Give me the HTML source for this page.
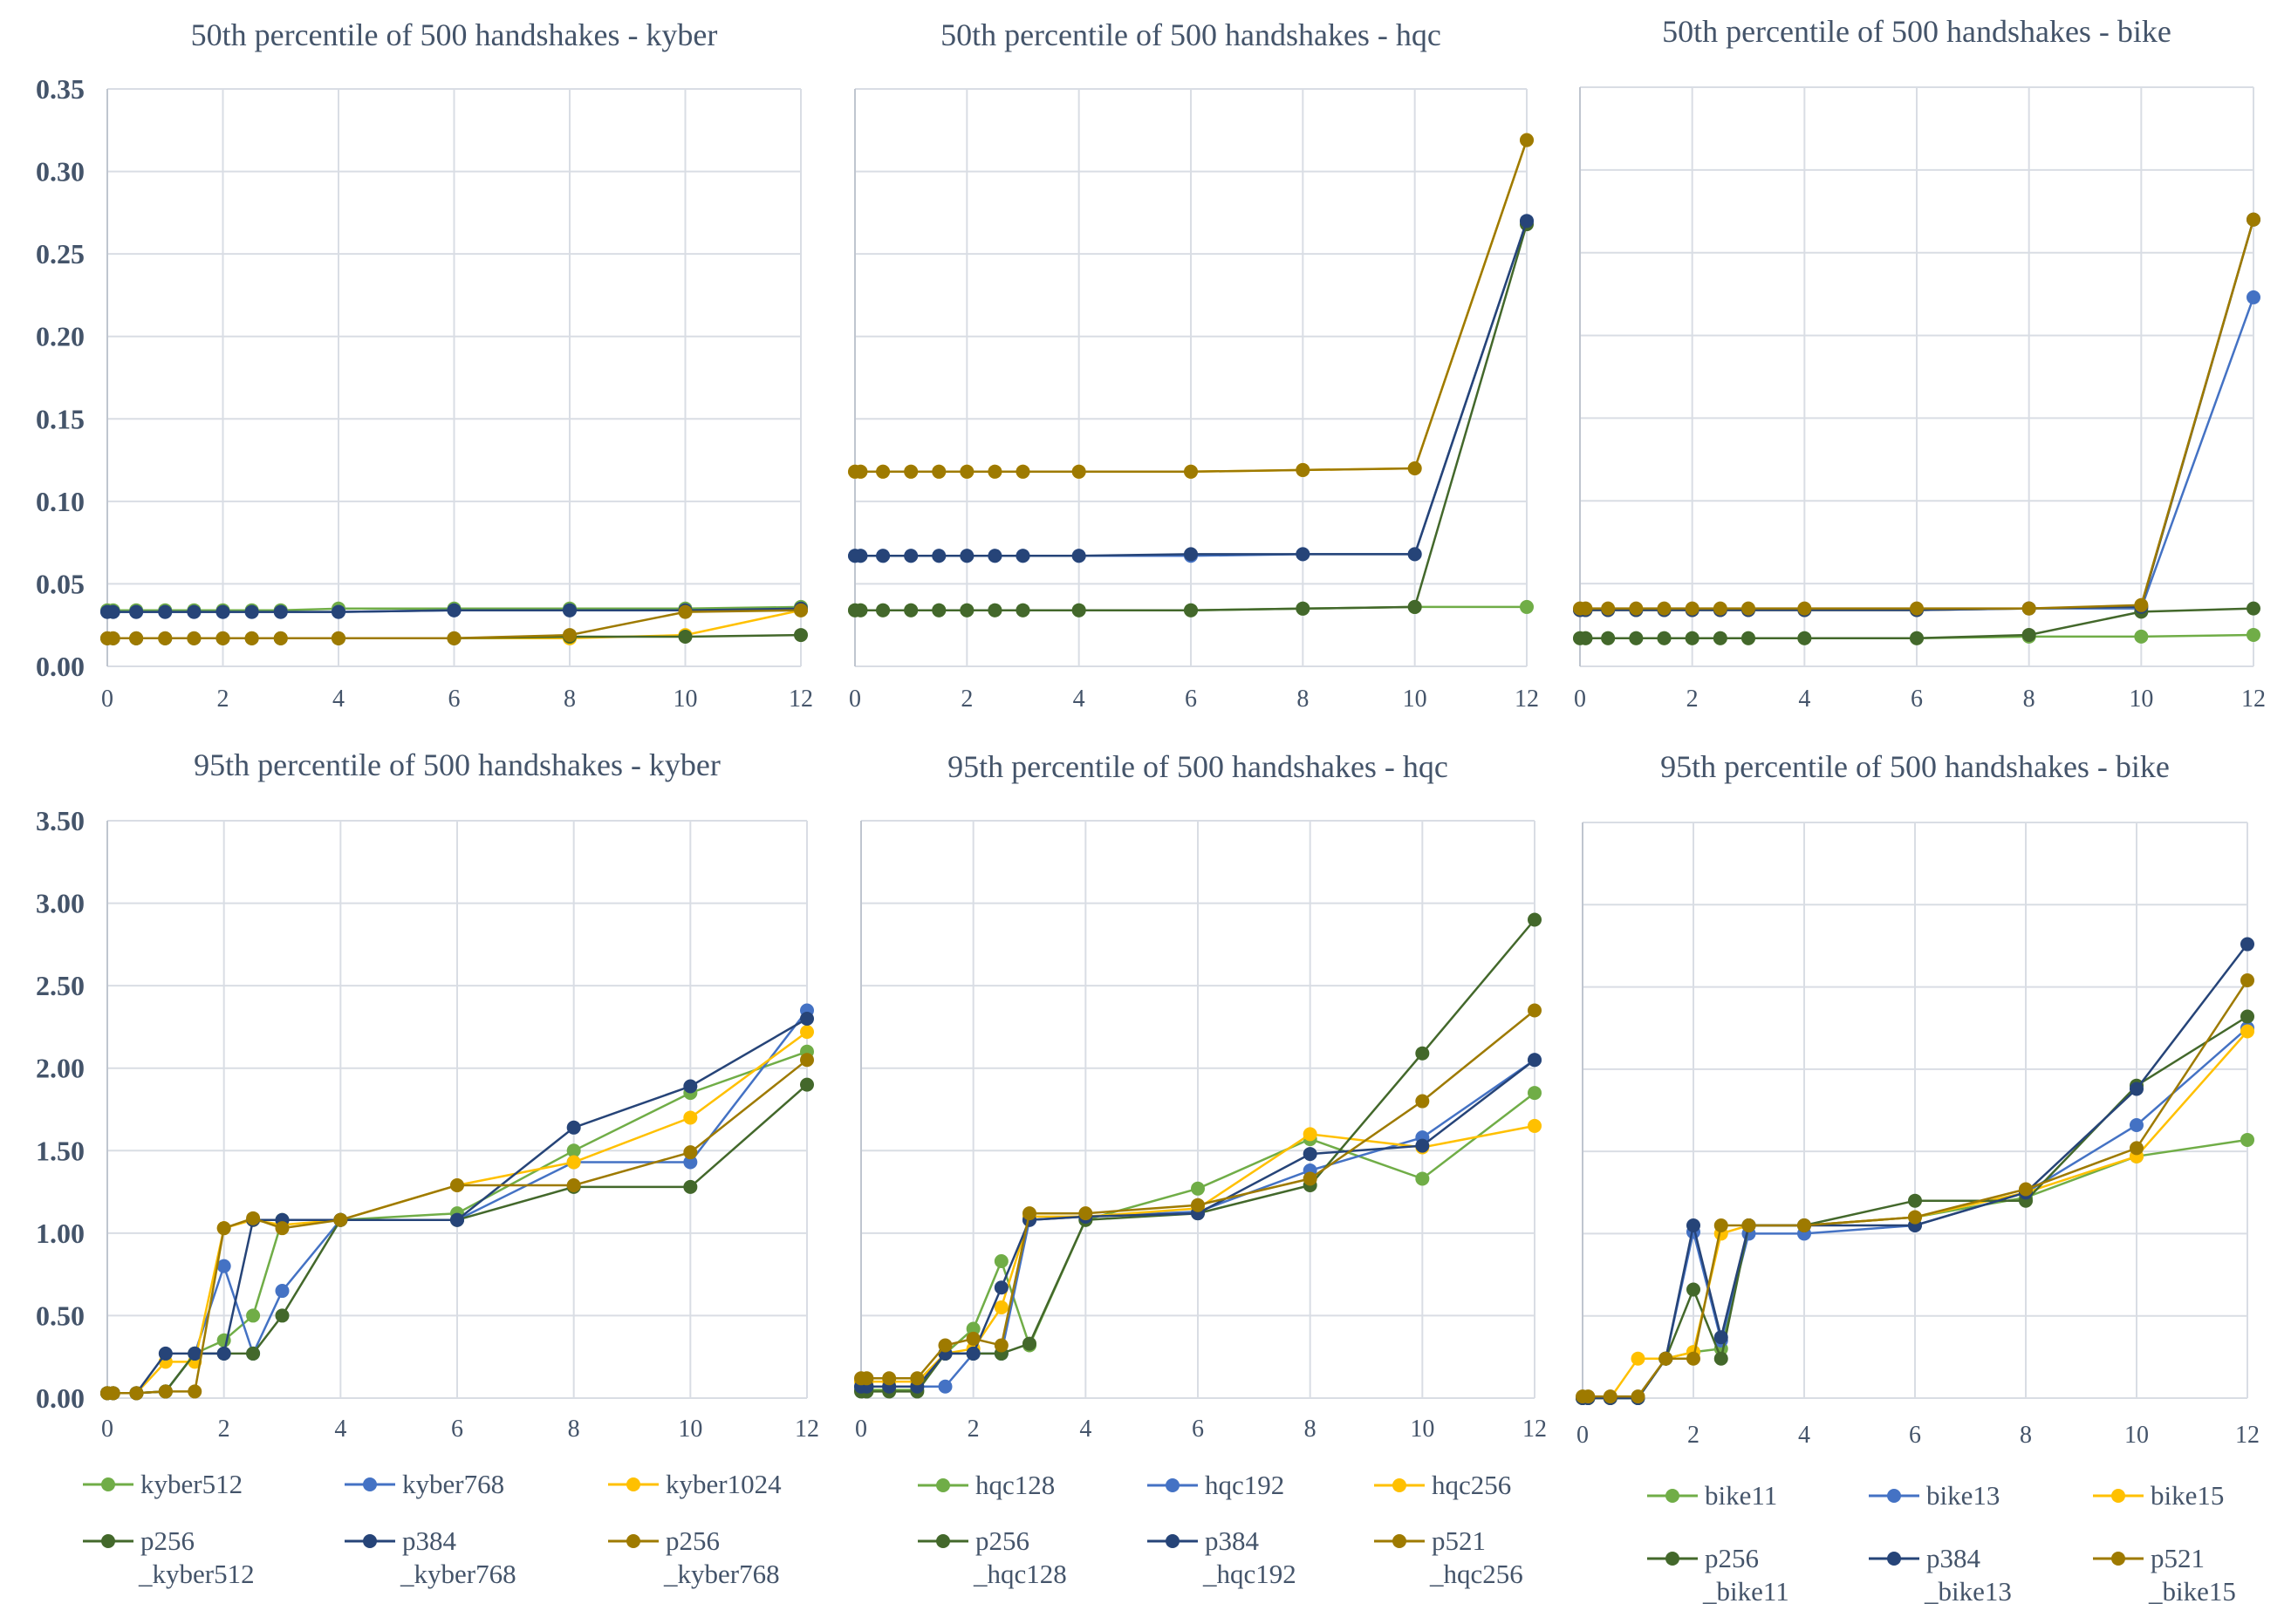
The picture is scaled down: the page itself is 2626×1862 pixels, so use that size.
<!DOCTYPE html>
<html><head><meta charset="utf-8">
<style>
html,body{margin:0;padding:0;background:#fff;}
svg{display:block;}
text{font-family:"Liberation Serif",serif;fill:#44546a;}
</style></head>
<body>
<svg id="root" width="2626" height="1862" viewBox="0 0 2626 1862" xmlns="http://www.w3.org/2000/svg"></svg>
<script>
const xValues = [0,0.1,0.5,1,1.5,2,2.5,3,4,6,8,10,12];
const xTicks = [0,2,4,6,8,10,12];
const yTicksTop = [0,0.05,0.10,0.15,0.20,0.25,0.30,0.35];
const yTicksBottom = [0,0.5,1.0,1.5,2.0,2.5,3.0,3.5];
const colors = ["#70ad47","#4472c4","#ffc000","#43682b","#264478","#9e7a00"];

const kyberNames = ["kyber512","kyber768","kyber1024","p256\n_kyber512","p384\n_kyber768","p256\n_kyber768"];
const hqcNames = ["hqc128","hqc192","hqc256","p256\n_hqc128","p384\n_hqc192","p521\n_hqc256"];
const bikeNames = ["bike11","bike13","bike15","p256\n_bike11","p384\n_bike13","p521\n_bike15"];

const kyber50 = [
 [0.034,0.034,0.034,0.034,0.034,0.034,0.034,0.034,0.035,0.035,0.035,0.035,0.036],
 [0.033,0.033,0.033,0.033,0.033,0.033,0.033,0.033,0.033,0.034,0.034,0.034,0.034],
 [0.017,0.017,0.017,0.017,0.017,0.017,0.017,0.017,0.017,0.017,0.017,0.019,0.034],
 [0.017,0.017,0.017,0.017,0.017,0.017,0.017,0.017,0.017,0.017,0.018,0.018,0.019],
 [0.033,0.033,0.033,0.033,0.033,0.033,0.033,0.033,0.033,0.034,0.034,0.034,0.035],
 [0.017,0.017,0.017,0.017,0.017,0.017,0.017,0.017,0.017,0.017,0.019,0.033,0.034]
];
const hqc50 = [
 [0.034,0.034,0.034,0.034,0.034,0.034,0.034,0.034,0.034,0.034,0.035,0.036,0.036],
 [0.067,0.067,0.067,0.067,0.067,0.067,0.067,0.067,0.067,0.067,0.068,0.068,0.270],
 [0.118,0.118,0.118,0.118,0.118,0.118,0.118,0.118,0.118,0.118,0.119,0.120,0.319],
 [0.034,0.034,0.034,0.034,0.034,0.034,0.034,0.034,0.034,0.034,0.035,0.036,0.268],
 [0.067,0.067,0.067,0.067,0.067,0.067,0.067,0.067,0.067,0.068,0.068,0.068,0.270],
 [0.118,0.118,0.118,0.118,0.118,0.118,0.118,0.118,0.118,0.118,0.119,0.120,0.319]
];
const bike50 = [
 [0.017,0.017,0.017,0.017,0.017,0.017,0.017,0.017,0.017,0.017,0.018,0.018,0.019],
 [0.034,0.034,0.034,0.034,0.034,0.034,0.034,0.034,0.034,0.034,0.035,0.035,0.223],
 [0.034,0.034,0.034,0.034,0.034,0.034,0.034,0.034,0.034,0.034,0.035,0.036,0.270],
 [0.017,0.017,0.017,0.017,0.017,0.017,0.017,0.017,0.017,0.017,0.019,0.033,0.035],
 [0.034,0.034,0.034,0.034,0.034,0.034,0.034,0.034,0.034,0.034,0.035,0.036,0.270],
 [0.035,0.035,0.035,0.035,0.035,0.035,0.035,0.035,0.035,0.035,0.035,0.037,0.270]
];
const kyber95 = [
 [0.03,0.03,0.03,0.04,0.27,0.35,0.50,1.08,1.08,1.12,1.50,1.85,2.10],
 [0.03,0.03,0.03,0.04,0.27,0.80,0.27,0.65,1.08,1.08,1.43,1.43,2.35],
 [0.03,0.03,0.03,0.22,0.22,1.03,1.08,1.05,1.08,1.29,1.43,1.70,2.22],
 [0.03,0.03,0.03,0.04,0.27,0.27,0.27,0.50,1.08,1.08,1.28,1.28,1.90],
 [0.03,0.03,0.03,0.27,0.27,0.27,1.08,1.08,1.08,1.08,1.64,1.89,2.30],
 [0.03,0.03,0.03,0.04,0.04,1.03,1.09,1.03,1.08,1.29,1.29,1.49,2.05]
];
const hqc95 = [
 [0.05,0.05,0.05,0.05,0.27,0.42,0.83,0.32,1.08,1.27,1.57,1.33,1.85],
 [0.07,0.07,0.07,0.07,0.07,0.27,0.27,1.08,1.10,1.13,1.38,1.58,2.05],
 [0.10,0.10,0.10,0.10,0.27,0.30,0.55,1.10,1.10,1.15,1.60,1.52,1.65],
 [0.04,0.04,0.04,0.04,0.27,0.27,0.27,0.33,1.08,1.12,1.29,2.09,2.90],
 [0.07,0.07,0.07,0.07,0.27,0.27,0.67,1.08,1.10,1.12,1.48,1.53,2.05],
 [0.12,0.12,0.12,0.12,0.32,0.36,0.32,1.12,1.12,1.17,1.33,1.80,2.35]
];
const bike95 = [
 [0.00,0.00,0.00,0.00,0.24,0.28,0.30,1.05,1.05,1.10,1.22,1.47,1.57],
 [0.00,0.00,0.00,0.00,0.24,1.01,0.35,1.00,1.00,1.05,1.25,1.66,2.25],
 [0.00,0.00,0.00,0.24,0.24,0.28,1.00,1.05,1.05,1.10,1.25,1.47,2.23],
 [0.00,0.00,0.00,0.00,0.24,0.66,0.24,1.05,1.05,1.20,1.20,1.90,2.32],
 [0.00,0.00,0.00,0.00,0.24,1.05,0.37,1.05,1.05,1.05,1.25,1.88,2.76],
 [0.01,0.01,0.01,0.01,0.24,0.24,1.05,1.05,1.05,1.10,1.27,1.52,2.54]
];

const NS = "http://www.w3.org/2000/svg";
const root = document.getElementById("root");
function mk(tag, attrs, parent){
  const e = document.createElementNS(NS, tag);
  for (const k in attrs) e.setAttribute(k, attrs[k]);
  (parent||root).appendChild(e);
  return e;
}

function drawChart(cfg){
  const g = mk("g", {});
  
  
  const {x0,x1,y0,y1} = cfg;
  const ymax = cfg.yTicks[cfg.yTicks.length-1];
  const sx = v => x0 + (v/12)*(x1-x0);
  const sy = v => y1 - (v/ymax)*(y1-y0);
  const t = mk("text", {x:(x0+x1)/2, y:cfg.titleY, "text-anchor":"middle", "font-size":36}, g);
  t.textContent = cfg.title;
  
  
  cfg.yTicks.forEach(v => {
    const l = mk("line", {x1:x0, x2:x1, y1:sy(v), y2:sy(v), stroke:"#d9dde4", "stroke-width":2}, g);
    
    
    if (cfg.showY){
      const tt = mk("text", {x:x0-26, y:sy(v)+11, "text-anchor":"end", "font-size":32, "font-weight":"bold"}, g);
      tt.textContent = v.toFixed(2);
      
      
    }
  });
  xTicks.forEach(v => {
    const l = mk("line", {x1:sx(v), x2:sx(v), y1:y0, y2:y1, stroke:"#d9dde4", "stroke-width":2}, g);
    
    
    const tt = mk("text", {x:sx(v), y:cfg.xLabY, "text-anchor":"middle", "font-size":28}, g);
    tt.textContent = v;
    
    
  });
  const ax = mk("line", {x1:x0, x2:x0, y1:y0, y2:y1, stroke:"#bfc5cf", "stroke-width":2}, g);
  
  
  cfg.series.forEach((vals, i) => {
    const sg = mk("g", {}, g);
    
    
    const pts = vals.map((v,j) => sx(xValues[j]).toFixed(1)+","+sy(v).toFixed(1)).join(" ");
    const pl = mk("polyline", {points:pts, fill:"none", stroke:colors[i], "stroke-width":2.5}, sg);
    
    
    vals.forEach((v,j) => {
      const c = mk("circle", {cx:sx(xValues[j]), cy:sy(v), r:8, fill:colors[i]}, sg);
      
      
    });
  });
}

function drawLegend(name, names, cols, row1Y, row2Y){
  const g = mk("g", {});
  
  
  names.forEach((n,i) => {
    const cx = cols[i%3];
    const y = i<3 ? row1Y : row2Y;
    const eg = mk("g", {}, g);
    
    
    mk("line", {x1:cx, x2:cx+58, y1:y, y2:y, stroke:colors[i], "stroke-width":3}, eg);
    mk("circle", {cx:cx+29, cy:y, r:8, fill:colors[i]}, eg);
    const parts = n.split("\n");
    parts.forEach((p,k) => {
      const tt = mk("text", {x:cx+(k?64:66), y:y+10+k*38, "font-size":31}, eg);
      tt.textContent = p;
    });
  });
}

drawChart({name:"chart-kyber-50th", title:"50th percentile of 500 handshakes - kyber", x0:123,x1:918,y0:102,y1:764, titleY:52, xLabY:810, yTicks:yTicksTop, showY:true, series:kyber50, names:kyberNames});
drawChart({name:"chart-hqc-50th", title:"50th percentile of 500 handshakes - hqc", x0:980,x1:1750,y0:102,y1:764, titleY:52, xLabY:810, yTicks:yTicksTop, showY:false, series:hqc50, names:hqcNames});
drawChart({name:"chart-bike-50th", title:"50th percentile of 500 handshakes - bike", x0:1811,x1:2583,y0:100,y1:764, titleY:48, xLabY:810, yTicks:yTicksTop, showY:false, series:bike50, names:bikeNames});
drawChart({name:"chart-kyber-95th", title:"95th percentile of 500 handshakes - kyber", x0:123,x1:925,y0:941,y1:1603, titleY:889, xLabY:1647, yTicks:yTicksBottom, showY:true, series:kyber95, names:kyberNames});
drawChart({name:"chart-hqc-95th", title:"95th percentile of 500 handshakes - hqc", x0:987,x1:1759,y0:941,y1:1603, titleY:891, xLabY:1647, yTicks:yTicksBottom, showY:false, series:hqc95, names:hqcNames});
drawChart({name:"chart-bike-95th", title:"95th percentile of 500 handshakes - bike", x0:1814,x1:2576,y0:943,y1:1603, titleY:891, xLabY:1654, yTicks:yTicksBottom, showY:false, series:bike95, names:bikeNames});

drawLegend("legend-kyber", kyberNames, [95,395,697], 1702, 1767);
drawLegend("legend-hqc", hqcNames, [1052,1315,1575], 1703, 1767);
drawLegend("legend-bike", bikeNames, [1888,2142,2399], 1715, 1787);
</script>
</body></html>
